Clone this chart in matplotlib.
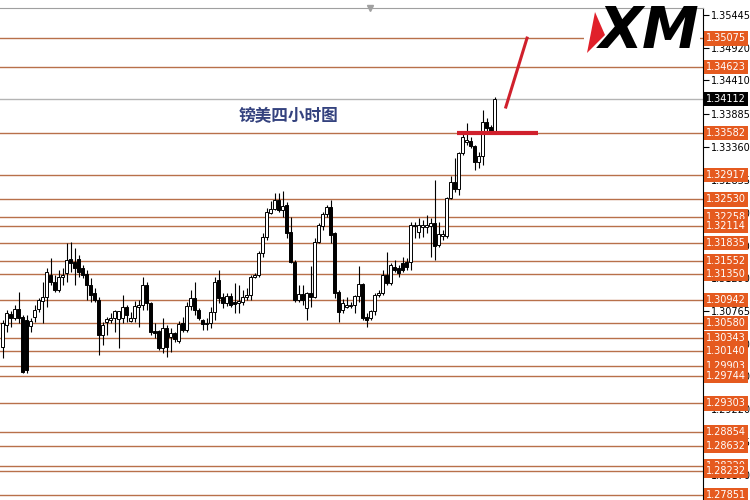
import numpy as np
import matplotlib.pyplot as plt
from matplotlib.patches import Polygon, Rectangle

# GBP/USD 4H candles (open, high, low, close)
opens = [1.3020, 1.3054, 1.3072, 1.3065, 1.3080, 1.3067, 1.3062, 1.3053, 1.3067, 1.3080,
         1.3092, 1.3099, 1.3133, 1.3122, 1.3110, 1.3130, 1.3137, 1.3159, 1.3154, 1.3159,
         1.3145, 1.3135, 1.3118, 1.3105, 1.3094, 1.3039, 1.3059, 1.3062, 1.3065, 1.3064,
         1.3065, 1.3083, 1.3061, 1.3065, 1.3083, 1.3086, 1.3118, 1.3089, 1.3045, 1.3045,
         1.3018, 1.3050, 1.3035, 1.3042, 1.3029, 1.3058, 1.3047, 1.3084, 1.3097, 1.3078,
         1.3062, 1.3056, 1.3058, 1.3075, 1.3126, 1.3099, 1.3089, 1.3100, 1.3091, 1.3089,
         1.3091, 1.3099, 1.3102, 1.3130, 1.3133, 1.3168, 1.3194, 1.3231, 1.3238, 1.3252,
         1.3236, 1.3244, 1.3201, 1.3154, 1.3094, 1.3103, 1.3081, 1.3105, 1.3099, 1.3186,
         1.3211, 1.3230, 1.3241, 1.3200, 1.3107, 1.3078, 1.3083, 1.3084, 1.3086, 1.3100,
         1.3119, 1.3067, 1.3065, 1.3077, 1.3102, 1.3105, 1.3133, 1.3121, 1.3146, 1.3145,
         1.3152, 1.3154, 1.3154, 1.3211, 1.3201, 1.3209, 1.3209, 1.3211, 1.3216, 1.3181,
         1.3195, 1.3195, 1.3255, 1.3280, 1.3269, 1.3326, 1.3344, 1.3345, 1.3337, 1.3312,
         1.3322, 1.3375, 1.3367, 1.3361]
highs = [1.3062, 1.3078, 1.3077, 1.3086, 1.3107, 1.3070, 1.3070, 1.3065, 1.3086, 1.3097,
         1.3122, 1.3145, 1.3160, 1.3133, 1.3141, 1.3145, 1.3184, 1.3186, 1.3176, 1.3165,
         1.3149, 1.3141, 1.3129, 1.3113, 1.3099, 1.3059, 1.3067, 1.3073, 1.3078, 1.3077,
         1.3102, 1.3086, 1.3075, 1.3092, 1.3094, 1.3130, 1.3122, 1.3091, 1.3058, 1.3047,
         1.3065, 1.3054, 1.3050, 1.3043, 1.3061, 1.3067, 1.3091, 1.3110, 1.3122, 1.3081,
         1.3064, 1.3065, 1.3083, 1.3130, 1.3141, 1.3105, 1.3105, 1.3105, 1.3121, 1.3118,
         1.3110, 1.3113, 1.3133, 1.3137, 1.3171, 1.3200, 1.3239, 1.3250, 1.3263, 1.3263,
         1.3266, 1.3249, 1.3225, 1.3157, 1.3118, 1.3118, 1.3107, 1.3148, 1.3192, 1.3216,
         1.3233, 1.3244, 1.3252, 1.3201, 1.3110, 1.3096, 1.3099, 1.3091, 1.3102, 1.3148,
         1.3121, 1.3073, 1.3078, 1.3105, 1.3110, 1.3141, 1.3170, 1.3152, 1.3157, 1.3149,
         1.3162, 1.3160, 1.3217, 1.3217, 1.3224, 1.3220, 1.3228, 1.3224, 1.3284, 1.3217,
         1.3205, 1.3257, 1.3290, 1.3318, 1.3328, 1.3358, 1.3374, 1.3352, 1.3339, 1.3328,
         1.3394, 1.3382, 1.3371, 1.3415]
lows = [1.3002, 1.3043, 1.3051, 1.3062, 1.3058, 1.2979, 1.2979, 1.3043, 1.3059, 1.3075,
        1.3058, 1.3083, 1.3118, 1.3107, 1.3107, 1.3118, 1.3122, 1.3138, 1.3118, 1.3130,
        1.3129, 1.3094, 1.3091, 1.3091, 1.3007, 1.3023, 1.3039, 1.3058, 1.3043, 1.3018,
        1.3058, 1.3059, 1.3059, 1.3059, 1.3051, 1.3078, 1.3078, 1.3039, 1.3034, 1.3015,
        1.3010, 1.3004, 1.3012, 1.3028, 1.3026, 1.3043, 1.3043, 1.3078, 1.3070, 1.3062,
        1.3047, 1.3047, 1.3050, 1.3062, 1.3089, 1.3081, 1.3084, 1.3083, 1.3073, 1.3073,
        1.3086, 1.3094, 1.3094, 1.3129, 1.3130, 1.3162, 1.3189, 1.3230, 1.3236, 1.3233,
        1.3225, 1.3192, 1.3152, 1.3091, 1.3091, 1.3086, 1.3062, 1.3083, 1.3097, 1.3184,
        1.3205, 1.3225, 1.3184, 1.3097, 1.3059, 1.3073, 1.3081, 1.3081, 1.3073, 1.3091,
        1.3062, 1.3051, 1.3062, 1.3070, 1.3099, 1.3102, 1.3118, 1.3118, 1.3138, 1.3130,
        1.3138, 1.3141, 1.3141, 1.3192, 1.3192, 1.3194, 1.3200, 1.3162, 1.3157, 1.3178,
        1.3189, 1.3192, 1.3254, 1.3265, 1.3260, 1.3323, 1.3339, 1.3334, 1.3299, 1.3303,
        1.3307, 1.3360, 1.3358, 1.3358]
closes = [1.3058, 1.3073, 1.3065, 1.3080, 1.3065, 1.2980, 1.2983, 1.3061, 1.3078, 1.3094,
          1.3099, 1.3138, 1.3122, 1.3110, 1.3130, 1.3133, 1.3157, 1.3153, 1.3145, 1.3138,
          1.3133, 1.3118, 1.3102, 1.3094, 1.3039, 1.3054, 1.3064, 1.3065, 1.3077, 1.3077,
          1.3083, 1.3070, 1.3065, 1.3084, 1.3086, 1.3118, 1.3089, 1.3043, 1.3042, 1.3018,
          1.3050, 1.3020, 1.3042, 1.3032, 1.3056, 1.3047, 1.3084, 1.3097, 1.3078, 1.3065,
          1.3056, 1.3058, 1.3075, 1.3122, 1.3097, 1.3089, 1.3100, 1.3086, 1.3088, 1.3092,
          1.3099, 1.3102, 1.3130, 1.3133, 1.3168, 1.3194, 1.3233, 1.3238, 1.3252, 1.3236,
          1.3243, 1.3200, 1.3154, 1.3094, 1.3103, 1.3094, 1.3105, 1.3099, 1.3186, 1.3212,
          1.3230, 1.3241, 1.3197, 1.3105, 1.3075, 1.3089, 1.3086, 1.3086, 1.3100, 1.3119,
          1.3065, 1.3062, 1.3077, 1.3102, 1.3105, 1.3133, 1.3121, 1.3149, 1.3141, 1.3137,
          1.3141, 1.3146, 1.3212, 1.3212, 1.3212, 1.3212, 1.3212, 1.3216, 1.3179, 1.3198,
          1.3198, 1.3255, 1.3280, 1.3269, 1.3326, 1.3352, 1.3347, 1.3337, 1.3312, 1.3322,
          1.3375, 1.3366, 1.3360, 1.3412]

levels = [1.35075, 1.34623, 1.33582, 1.32917, 1.32530, 1.32258, 1.32114, 1.31835,
          1.31552, 1.31350, 1.30942, 1.30580, 1.30343, 1.30140, 1.29903, 1.29744,
          1.29303, 1.28854, 1.28632, 1.28320, 1.28232, 1.27851]
axis_ticks = [1.35445, 1.34920, 1.34410, 1.33885, 1.33360, 1.32835, 1.32310, 1.31800,
              1.31290, 1.30765, 1.30240, 1.29730, 1.29220, 1.28695, 1.28170]
last_price = 1.34112

# hand-drawn red marks
support_x = [113.6, 133.8]
support_y = [1.3358, 1.3358]
arrow_x = [125.8, 131.1]
arrow_y = [1.3399, 1.3508]

title = "镑美四小时图"

fig = plt.figure(figsize=(7.5, 5), dpi=100)
ax = fig.add_axes([0, 0, 703 / 750, 492 / 500])

x = np.arange(len(closes))
o = np.array(opens)
c = np.array(closes)
h = np.array(highs)
l = np.array(lows)

for lv in levels:
    ax.axhline(lv, color='#b8704a', lw=1, zorder=1)
ax.axhline(last_price, color='#b4b4b4', lw=1, zorder=1)

ax.vlines(x, l, h, color='black', lw=0.8, zorder=2)
bottom = np.minimum(o, c)
height = np.maximum(np.abs(c - o), 0.00005)
fill = np.where(c < o, 'black', 'white')
ax.bar(x, height, bottom=bottom, width=0.62, color=fill, edgecolor='black',
       linewidth=0.7, zorder=3)

ax.plot(support_x, support_y, color='#d0202c', lw=3, solid_capstyle='butt', zorder=4)
ax.plot(arrow_x, arrow_y, color='#d0202c', lw=2.2, zorder=4)

ax.set_xlim(-0.675, 175.1)
ax.set_ylim(1.27777, 1.35556)

ax.yaxis.tick_right()
ax.set_yticks(axis_ticks)
ax.set_yticklabels(['%.5f' % t for t in axis_ticks])
ax.tick_params(axis='y', labelsize=7, length=4, pad=2, colors='black')
ax.set_xticks([])
for s in ['left', 'bottom']:
    ax.spines[s].set_visible(False)
ax.spines['top'].set_color('#a0a0a0')
ax.spines['right'].set_color('black')

tr = ax.get_yaxis_transform()
for lv in levels:
    ax.text(1.004, lv, '%.5f' % lv, transform=tr, fontsize=7, color='white',
            va='center', ha='left', clip_on=False, zorder=5,
            bbox=dict(boxstyle='square,pad=0.22', fc='#e55a1f', ec='none'))
ax.text(1.004, last_price, '%.5f' % last_price, transform=tr, fontsize=7,
        color='white', va='center', ha='left', clip_on=False, zorder=5,
        bbox=dict(boxstyle='square,pad=0.22', fc='black', ec='none'))

ax.plot([370 / 703], [1.0], marker='v', color='#a0a0a0', markersize=5,
        transform=ax.transAxes, clip_on=False)

ax.text(0.41, 0.78, title, transform=ax.transAxes, fontsize=12, fontweight='bold',
        color='#34427e', ha='center', va='center',
        family=['Noto Sans CJK SC', 'DejaVu Sans'])

# XM logo
fig.patches.append(Rectangle((584 / 750, 1 - 56 / 500), 116 / 750, 46 / 500,
                             transform=fig.transFigure, fc='white', ec='none', zorder=6))
fig.patches.append(Polygon([(595 / 750, 1 - 12 / 500), (605 / 750, 1 - 35 / 500),
                            (587 / 750, 1 - 53 / 500)], closed=True,
                           transform=fig.transFigure, fc='#e0202a', ec='none', zorder=7))
fig.text(649 / 750, 1 - 32 / 500, 'XM', fontsize=41, fontweight='heavy', style='italic',
         color='black', ha='center', va='center', zorder=8)

fig.savefig('out.png', dpi=100)
